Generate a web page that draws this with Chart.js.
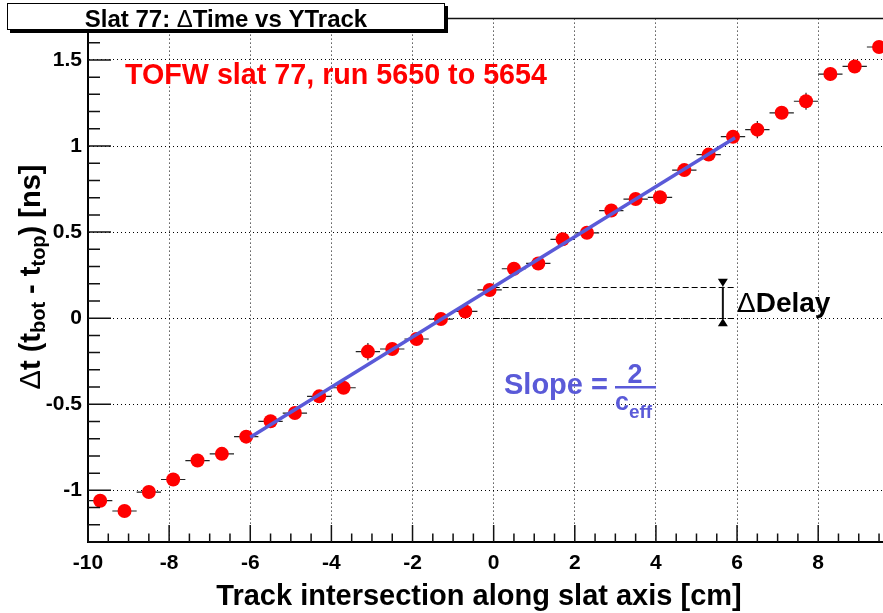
<!DOCTYPE html>
<html>
<head>
<meta charset="utf-8">
<script src="https://cdn.jsdelivr.net/npm/chart.js@4.4.1/dist/chart.umd.min.js"></script>
<style>
  html, body { margin: 0; padding: 0; background: #fff; overflow: hidden; }
  #wrap { position: relative; width: 920px; height: 613px; }
</style>
</head>
<body>
<div id="wrap"><canvas id="slatChart" width="920" height="613"></canvas></div>
<script>
const FONT = '"Liberation Sans", Arial, Helvetica, sans-serif';
const RED = '#ff0000';
const BLUE = '#5a5ad8';

// bin centres along the slat (cm) and the measured delta t (ns)
const trackY = [-9.7, -9.1, -8.5, -7.9, -7.3, -6.7, -6.1, -5.5, -4.9, -4.3, -3.7,
  -3.1, -2.5, -1.9, -1.3, -0.7, -0.1, 0.5, 1.1, 1.7, 2.3, 2.9, 3.5, 4.1, 4.7, 5.3,
  5.9, 6.5, 7.1, 7.7, 8.3, 8.9, 9.5];
const deltaT = [-1.06, -1.12, -1.01, -0.937, -0.827, -0.788, -0.688, -0.599, -0.551, -0.454, -0.404,
  -0.194, -0.179, -0.121, -0.005, 0.039, 0.164, 0.287, 0.318, 0.458, 0.496, 0.625, 0.692, 0.702, 0.860, 0.950,
  1.054, 1.095, 1.193, 1.26, 1.418, 1.462, 1.575];
const deltaTErr = [0.03, 0.03, 0.03, 0.03, 0.03, 0.03, 0.03, 0.03, 0.03, 0.03, 0.03,
  0.05, 0.03, 0.03, 0.03, 0.03, 0.03, 0.03, 0.03, 0.03, 0.03, 0.03, 0.03, 0.03, 0.03, 0.03,
  0.03, 0.05, 0.03, 0.05, 0.04, 0.03, 0.03];
const binHalfWidth = 0.3;

// linear fit, drawn between its two end points
const fitX = [-6.0, 5.95];
const fitY = [-0.692, 1.048];

// delta delay marker (fit value at 0 vs. zero)
const delayLevels = [0, 0.182];
const delayLineX = [0, 5.96];
const delayArrowX = 5.65;

const xRange = [-10, 10];
const yRange = [-1.3, 1.74];
const xMajorStep = 2, xMinorStep = 0.5;
const yMajorStep = 0.5, yMinorStep = 0.1;

function richText(ctx, parts, x, y) {
  // parts: [text, font, dy]; drawn left to right starting at x
  let cx = x;
  parts.forEach(([t, f, dy]) => {
    ctx.font = f;
    ctx.fillText(t, cx, y + (dy || 0));
    cx += ctx.measureText(t).width;
  });
  return cx - x;
}
function richWidth(ctx, parts) {
  let w = 0;
  parts.forEach(([t, f]) => { ctx.font = f; w += ctx.measureText(t).width; });
  return w;
}

const rootStyle = {
  id: 'rootStyle',
  beforeDatasetsDraw(chart) {
    const {ctx, scales: {x, y}} = chart;
    ctx.save();
    // error bars
    ctx.strokeStyle = '#222';
    ctx.lineWidth = 1.2;
    ctx.beginPath();
    trackY.forEach((xv, i) => {
      const px = x.getPixelForValue(xv), py = y.getPixelForValue(deltaT[i]);
      ctx.moveTo(x.getPixelForValue(xv - binHalfWidth), py);
      ctx.lineTo(x.getPixelForValue(xv + binHalfWidth), py);
      ctx.moveTo(px, y.getPixelForValue(deltaT[i] - deltaTErr[i]));
      ctx.lineTo(px, y.getPixelForValue(deltaT[i] + deltaTErr[i]));
    });
    ctx.stroke();
    // dashed delay levels
    ctx.setLineDash([6, 3]);
    ctx.lineWidth = 1;
    ctx.strokeStyle = '#000';
    ctx.beginPath();
    delayLevels.forEach(v => {
      const py = Math.round(y.getPixelForValue(v)) + 0.5;
      ctx.moveTo(x.getPixelForValue(delayLineX[0]), py);
      ctx.lineTo(x.getPixelForValue(delayLineX[1]), py);
    });
    ctx.stroke();
    ctx.restore();
  },
  afterDatasetsDraw(chart) {
    const {ctx, chartArea: a, scales: {x, y}} = chart;
    ctx.save();
    // ticks drawn inside the frame
    ctx.strokeStyle = '#111';
    ctx.lineWidth = 1.5;
    ctx.beginPath();
    const nx = Math.round((xRange[1] - xRange[0]) / xMinorStep);
    for (let i = 0; i <= nx; i++) {
      const v = xRange[0] + i * xMinorStep;
      const major = Math.abs(v / xMajorStep - Math.round(v / xMajorStep)) < 1e-6;
      const px = x.getPixelForValue(v);
      ctx.moveTo(px, a.bottom);
      ctx.lineTo(px, a.bottom - (major ? 17 : 8.5));
    }
    const y0 = Math.ceil(yRange[0] / yMinorStep - 1e-6);
    const y1 = Math.floor(yRange[1] / yMinorStep + 1e-6);
    for (let k = y0; k <= y1; k++) {
      const v = k * yMinorStep;
      const major = Math.abs(v / yMajorStep - Math.round(v / yMajorStep)) < 1e-6;
      const py = y.getPixelForValue(v);
      ctx.moveTo(a.left, py);
      ctx.lineTo(a.left + (major ? 23 : 12), py);
    }
    ctx.stroke();
    // top frame line
    ctx.lineWidth = 1.5;
    ctx.beginPath();
    ctx.moveTo(a.left, a.top);
    ctx.lineTo(a.right, a.top);
    ctx.stroke();

    // delta delay arrow
    const ax = x.getPixelForValue(delayArrowX);
    const yHi = y.getPixelForValue(delayLevels[1]), yLo = y.getPixelForValue(delayLevels[0]);
    ctx.fillStyle = '#000';
    ctx.lineWidth = 2;
    ctx.beginPath();
    ctx.moveTo(ax, yHi);
    ctx.lineTo(ax, yLo);
    ctx.stroke();
    ctx.beginPath();
    ctx.moveTo(ax - 5, yHi - 8); ctx.lineTo(ax + 5, yHi - 8); ctx.lineTo(ax, yHi);
    ctx.closePath();
    ctx.moveTo(ax - 5, yLo + 8); ctx.lineTo(ax + 5, yLo + 8); ctx.lineTo(ax, yLo);
    ctx.closePath();
    ctx.fill();
    ctx.restore();
  },
  afterDraw(chart) {
    const {ctx} = chart;
    ctx.save();
    ctx.textBaseline = 'alphabetic';
    ctx.textAlign = 'left';

    // title box with shadow
    ctx.fillStyle = '#000';
    ctx.fillRect(10, 6, 438, 27);
    ctx.fillStyle = '#fff';
    ctx.fillRect(7, 3, 438, 27);
    ctx.strokeStyle = '#000';
    ctx.lineWidth = 1;
    ctx.strokeRect(7.5, 3.5, 437, 26);
    ctx.fillStyle = '#000';
    const titleParts = [
      ['Slat 77: ', 'bold 24px ' + FONT],
      ['\u0394', '24px ' + FONT],
      ['Time vs YTrack', 'bold 24px ' + FONT]
    ];
    richText(ctx, titleParts, 226 - richWidth(ctx, titleParts) / 2, 27);

    // run label
    ctx.fillStyle = RED;
    ctx.font = 'bold 28.7px ' + FONT;
    ctx.fillText('TOFW slat 77, run 5650 to 5654', 125, 84);

    // delta delay label
    ctx.fillStyle = '#000';
    richText(ctx, [['\u0394', '28px ' + FONT], ['Delay', 'bold 28px ' + FONT]], 737, 312);

    // slope = 2 / c_eff
    ctx.fillStyle = BLUE;
    ctx.font = 'bold 29px ' + FONT;
    ctx.fillText('Slope =', 504, 394);
    ctx.fillRect(615, 386, 41, 2.5);
    ctx.font = 'bold 27px ' + FONT;
    ctx.textAlign = 'center';
    ctx.fillText('2', 635, 383);
    ctx.textAlign = 'left';
    richText(ctx, [['c', 'bold 25px ' + FONT], ['eff', 'bold 19px ' + FONT, 8]], 615, 410);

    // axis titles
    ctx.fillStyle = '#000';
    ctx.font = 'bold 29px ' + FONT;
    ctx.textAlign = 'center';
    ctx.fillText('Track intersection along slat axis [cm]', 479, 605);
    ctx.textAlign = 'left';
    const yParts = [
      ['\u0394', '29px ' + FONT],
      ['t (t', 'bold 29px ' + FONT],
      ['bot', 'bold 20px ' + FONT, 5],
      [' - t', 'bold 29px ' + FONT],
      ['top', 'bold 20px ' + FONT, 5],
      [') [ns]', 'bold 29px ' + FONT]
    ];
    ctx.translate(0, 277);
    ctx.rotate(-Math.PI / 2);
    richText(ctx, yParts, -richWidth(ctx, yParts) / 2, 40);
    ctx.restore();
  }
};

const tickFont = {family: FONT, size: 21, weight: 'bold'};
const tickText = v => String(+Number(v).toFixed(2));

new Chart(document.getElementById('slatChart'), {
  type: 'scatter',
  data: {
    datasets: [
      {
        label: 'fit',
        data: fitX.map((v, i) => ({x: v, y: fitY[i]})),
        showLine: true,
        borderColor: BLUE,
        borderWidth: 3.5,
        pointRadius: 0,
        pointHoverRadius: 0
      },
      {
        label: 'delta t',
        data: trackY.map((v, i) => ({x: v, y: deltaT[i]})),
        backgroundColor: RED,
        borderWidth: 0,
        pointRadius: 7,
        pointHoverRadius: 7
      }
    ]
  },
  options: {
    responsive: false,
    animation: false,
    events: [],
    devicePixelRatio: 1,
    layout: {padding: {left: 0, top: 15, right: 17.5, bottom: 0}},
    plugins: {legend: {display: false}, tooltip: {enabled: false}},
    scales: {
      x: {
        type: 'linear',
        min: xRange[0],
        max: xRange[1],
        afterFit: s => { s.height = 71; },
        ticks: {stepSize: xMajorStep, autoSkip: false, maxRotation: 0, padding: 9, color: '#000', font: tickFont, callback: tickText},
        grid: {color: '#000', lineWidth: 1, drawTicks: false},
        border: {display: true, color: '#000', width: 2, dash: [1, 3]}
      },
      y: {
        type: 'linear',
        min: yRange[0],
        max: yRange[1],
        afterFit: s => { s.width = 88; },
        ticks: {stepSize: yMajorStep, includeBounds: false, autoSkip: false, padding: 6, color: '#000', font: tickFont, callback: tickText},
        grid: {color: '#000', lineWidth: 1, drawTicks: false},
        border: {display: true, color: '#000', width: 2, dash: [1, 3]}
      }
    }
  },
  plugins: [rootStyle]
});
</script>
</body>
</html>
